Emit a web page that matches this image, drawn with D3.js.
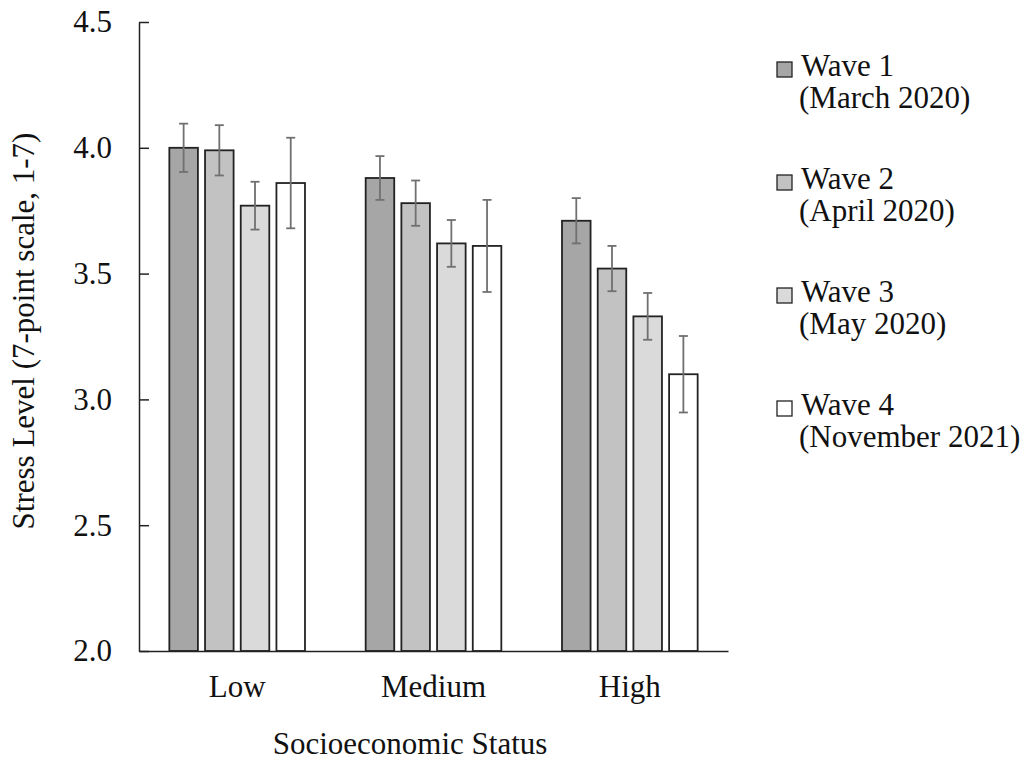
<!DOCTYPE html>
<html>
<head>
<meta charset="utf-8">
<script src="https://cdn.jsdelivr.net/npm/d3@7/dist/d3.min.js"></script>
<style>
  html, body { margin: 0; padding: 0; background: #fff; }
  svg { display: block; }
  svg text { font-family: "Liberation Serif", Tinos, "Times New Roman", Times, "DejaVu Serif", serif; fill: #111; }
</style>
</head>
<body>
<svg id="chart" width="1024" height="762"></svg>
<script>
// ---- data ----
const categories = ["Low", "Medium", "High"];
const waves = ["Wave 1", "Wave 2", "Wave 3", "Wave 4"];
const waveDates = ["(March 2020)", "(April 2020)", "(May 2020)", "(November 2021)"];
const wave1 = [4.00, 3.88, 3.71];
const wave2 = [3.99, 3.78, 3.52];
const wave3 = [3.77, 3.62, 3.33];
const wave4 = [3.86, 3.61, 3.10];
const err1 = [0.096, 0.087, 0.090];
const err2 = [0.100, 0.090, 0.090];
const err3 = [0.095, 0.093, 0.093];
const err4 = [0.180, 0.183, 0.152];
const yTicks = [2.0, 2.5, 3.0, 3.5, 4.0, 4.5];
const yLabel = "Stress Level (7-point scale, 1-7)";
const xLabel = "Socioeconomic Status";

const seriesValues = [wave1, wave2, wave3, wave4];
const seriesErrors = [err1, err2, err3, err4];
const fills = ["#a6a6a6", "#c2c2c2", "#dadada", "#ffffff"];
const FONT = '"Liberation Serif", Tinos, "Times New Roman", Times, "DejaVu Serif", serif';

const rows = [];
categories.forEach((c, ci) => {
  waves.forEach((w, wi) => {
    rows.push({ cat: c, wave: w, wi: wi, value: seriesValues[wi][ci], err: seriesErrors[wi][ci] });
  });
});

const svg = d3.select("#chart");
const plotLeft = 139, plotRight = 728, plotTop = 22, plotBottom = 651;

const x0 = d3.scaleBand().domain(categories).range([plotLeft, plotRight]).padding(0);
const x1 = d3.scaleBand().domain(waves).range([0, x0.bandwidth()]).paddingInner(0.2).paddingOuter(0.85);
const y = d3.scaleLinear().domain([2.0, 4.5]).range([plotBottom, plotTop]);
const color = d3.scaleOrdinal().domain(waves).range(fills);

// bars
svg.append("g").selectAll("rect").data(rows).join("rect")
  .attr("x", d => x0(d.cat) + x1(d.wave))
  .attr("y", d => y(d.value))
  .attr("width", x1.bandwidth())
  .attr("height", d => y(2.0) - y(d.value))
  .attr("fill", d => color(d.wave))
  .attr("stroke", "#222")
  .attr("stroke-width", 1.8);

// error bars
const eg = svg.append("g").attr("stroke", "#707070").attr("stroke-width", 1.8).attr("fill", "none");
const cx = d => x0(d.cat) + x1(d.wave) + x1.bandwidth() / 2;
eg.selectAll("line.v").data(rows).join("line").attr("class", "v")
  .attr("x1", cx).attr("x2", cx)
  .attr("y1", d => y(d.value + d.err)).attr("y2", d => y(d.value - d.err));
eg.selectAll("line.t").data(rows).join("line").attr("class", "t")
  .attr("x1", d => cx(d) - 4.5).attr("x2", d => cx(d) + 4.5)
  .attr("y1", d => y(d.value + d.err)).attr("y2", d => y(d.value + d.err));
eg.selectAll("line.b").data(rows).join("line").attr("class", "b")
  .attr("x1", d => cx(d) - 4.5).attr("x2", d => cx(d) + 4.5)
  .attr("y1", d => y(d.value - d.err)).attr("y2", d => y(d.value - d.err));

// y axis (ticks point inward)
const yAxis = d3.axisLeft(y).tickValues(yTicks).tickFormat(d3.format(".1f"))
  .tickSizeInner(-10).tickSizeOuter(0).tickPadding(27);
const ya = svg.append("g").attr("transform", `translate(${plotLeft},0)`).call(yAxis);
ya.attr("font-family", null).attr("font-size", null);
ya.selectAll("path, line").attr("stroke", "#222").attr("stroke-width", 1.5);
ya.selectAll("text").style("font-family", FONT).style("font-size", "31px").attr("fill", "#111");

// x axis (no ticks)
const xAxis = d3.axisBottom(x0).tickSize(0).tickSizeOuter(0).tickPadding(24);
const xa = svg.append("g").attr("transform", `translate(0,${plotBottom})`).call(xAxis);
xa.attr("font-family", null).attr("font-size", null);
xa.select("path").attr("stroke", "#222").attr("stroke-width", 1.5);
xa.selectAll("text").style("font-family", FONT).style("font-size", "31px").attr("fill", "#111");

// axis titles
svg.append("text").attr("x", 410).attr("y", 754).attr("text-anchor", "middle")
  .style("font-family", FONT).style("font-size", "31px").text(xLabel);
svg.append("text").attr("transform", "translate(34,331) rotate(-90)").attr("text-anchor", "middle")
  .style("font-family", FONT).style("font-size", "31px").text(yLabel);

// legend (two-line labels as one text with tspans)
const lg = svg.append("g");
waves.forEach((w, i) => {
  const by = 76 + i * 113;
  lg.append("rect").attr("x", 777).attr("y", by - 14).attr("width", 15).attr("height", 15)
    .attr("fill", color(w)).attr("stroke", "#222").attr("stroke-width", 1.3);
  const t = lg.append("text").attr("y", by).style("font-family", FONT).style("font-size", "31px");
  t.append("tspan").attr("x", 801).attr("y", by).text(w);
  t.append("tspan").attr("x", 799).attr("y", by + 32).text(waveDates[i]);
});
</script>
</body>
</html>
